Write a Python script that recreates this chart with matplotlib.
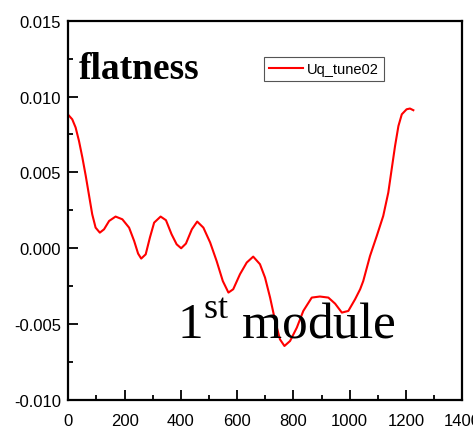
import matplotlib
matplotlib.use("Agg")
import matplotlib.pyplot as plt
from matplotlib import font_manager
from matplotlib.ticker import MultipleLocator

# Flatness profile along the first module
position = [0, 14, 26, 38, 50, 62, 74, 85, 97, 112, 127, 145, 168, 192, 216,
            234, 248, 259, 275, 290, 305, 328, 347, 367, 385, 401, 418, 439,
            458, 480, 504, 527, 549, 569, 586, 610, 634, 657, 681, 699, 717,
            735, 752, 768, 788, 812, 835, 865, 894, 924, 948, 972, 995, 1019,
            1037, 1048, 1072, 1096, 1119, 1137, 1149, 1161, 1173, 1185, 1202,
            1214, 1226]
flatness = [0.00879, 0.00850, 0.00796, 0.00707, 0.00598, 0.00477, 0.00345,
            0.00224, 0.00136, 0.00103, 0.00125, 0.00180, 0.00209, 0.00191,
            0.00136, 0.00048, -0.00035, -0.00068, -0.00040, 0.00071, 0.00169,
            0.00209, 0.00185, 0.00092, 0.00026, 0.00000, 0.00031, 0.00125,
            0.00176, 0.00136, 0.00038, -0.00084, -0.00216, -0.00292, -0.00270,
            -0.00171, -0.00094, -0.00055, -0.00105, -0.00193, -0.00325,
            -0.00479, -0.00600, -0.00644, -0.00611, -0.00523, -0.00413,
            -0.00325, -0.00318, -0.00325, -0.00365, -0.00424, -0.00413,
            -0.00336, -0.00270, -0.00216, -0.00051, 0.00081, 0.00213, 0.00367,
            0.00521, 0.00674, 0.00806, 0.00883, 0.00916, 0.00921, 0.00910]
series_name = "Uq_tune02"

x_ticks = [0, 200, 400, 600, 800, 1000, 1200, 1400]
y_ticks = [-0.010, -0.005, 0.000, 0.005, 0.010, 0.015]


def pick(*names):
    for n in names:
        try:
            font_manager.findfont(n, fallback_to_default=False)
            return n
        except Exception:
            continue
    return "DejaVu Sans"


sans = pick("Liberation Sans", "Arial")
serif = pick("Liberation Serif", "Times New Roman", "DejaVu Serif")

plt.rcParams["mathtext.fontset"] = "custom"
plt.rcParams["mathtext.rm"] = serif

fig = plt.figure(figsize=(4.73, 4.31), dpi=100)
ax = fig.add_axes([0.1444, 0.0696, 0.8330, 0.8801])

ax.plot(position, flatness, color="#ff0000", lw=1.5, label=series_name,
        solid_joinstyle="round")

ax.set_xlim(0, 1400)
ax.set_ylim(-0.010, 0.015)
ax.set_xticks(x_ticks)
ax.set_yticks(y_ticks)
ax.set_xticklabels([str(v) for v in x_ticks])
ax.set_yticklabels([f"{v:.3f}" for v in y_ticks])
ax.xaxis.set_minor_locator(MultipleLocator(100))
ax.yaxis.set_minor_locator(MultipleLocator(0.0025))

for s in ax.spines.values():
    s.set_linewidth(1.6)
ax.tick_params(which="both", direction="in", top=False, right=False, width=1.3)
ax.tick_params(which="major", length=7, labelsize=12, pad=5)
ax.tick_params(axis="x", which="major", pad=9.5)
ax.tick_params(which="minor", length=3.5)
for lab in ax.get_xticklabels() + ax.get_yticklabels():
    lab.set_fontfamily(sans)

ax.text(0.027, 0.849, "flatness", transform=ax.transAxes, fontfamily=serif,
        fontweight="bold", fontsize=27, va="baseline", ha="left")
ax.text(0.276, 0.166, r"1$^{\rm st}$ module", transform=ax.transAxes,
        fontfamily=serif, fontsize=37, va="baseline", ha="left")

leg = ax.legend(loc="upper left", bbox_to_anchor=(0.497, 0.904),
                prop={"family": sans, "size": 10.5}, frameon=True,
                fancybox=False, edgecolor="#555555", framealpha=1,
                borderpad=0.35, handlelength=2.3, handletextpad=0.3,
                borderaxespad=0)
leg.get_frame().set_linewidth(0.8)

fig.savefig("out.png", dpi=100)
